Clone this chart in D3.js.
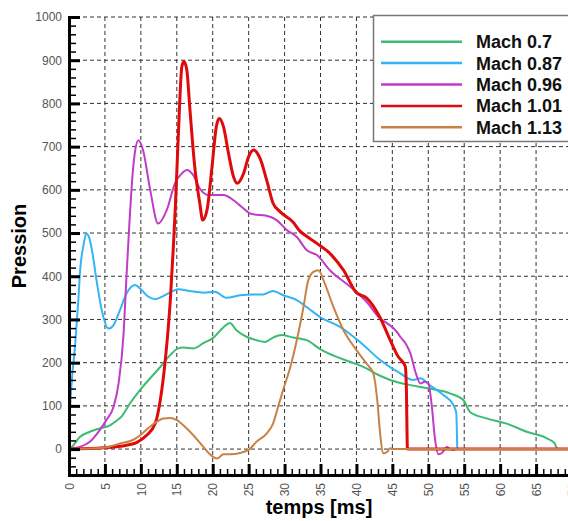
<!DOCTYPE html>
<html>
<head>
<meta charset="utf-8">
<script src="https://cdn.jsdelivr.net/npm/d3@7"></script>
<style>
  body { margin: 0; background: #fff; }
  svg { display: block; font-family: "Liberation Sans", Arial, sans-serif; }
</style>
</head>
<body>
<svg id="chart" width="568" height="521"></svg>
<script>
"use strict";

// series: [temps ms, pression]
var mach07 = [[0,0],[0.4,5],[1.5,28],[2.9,40],[4.3,48],[5.7,55],[6.4,63],[7.3,75],[8.5,106],[9.9,137],
  [11.3,164],[12.7,190],[14.1,218],[15.2,233],[15.9,235],[17.3,233],[18.7,245],[20.1,258],[21.5,282],
  [22.4,292],[23.3,275],[24.7,260],[26.1,252],[27.3,248],[28.4,258],[29.6,264],[31.2,258],[32.1,256],
  [33.1,252],[34.9,232],[37,215],[39.1,202],[41.4,187],[43,172],[44.7,160],[47.5,148],[50.2,140],
  [53,129],[54.9,113],[55.8,86],[58.1,71],[60.9,59],[63.7,40],[66.5,25],[67.6,13],[67.9,2],[68.2,0]];

var mach087 = [[0,0],[0.15,90],[0.4,160],[0.85,240],[1.3,345],[1.55,414],[2.0,470],[2.4,499],[2.8,490],
  [3.2,460],[3.9,383],[4.55,322],[5.5,279],[6.2,287],[7.1,322],[8.0,360],[9.2,380],[10.1,368],[11.0,353],
  [12.0,347],[13.1,354],[14.5,366],[15.2,370],[16.8,366],[18.7,362],[20.3,364],[21.9,350],[23.8,356],
  [25.6,358],[27.0,358],[28.4,366],[29.8,356],[31.7,345],[33.3,326],[34.9,306],[37.7,283],[40.5,248],
  [43.3,206],[46.1,175],[47.9,160],[48.9,164],[50.2,148],[52.1,125],[53.5,102],[53.9,83],[54.05,2],[54.1,0]];

var mach096 = [[0,0],[0.5,2],[1.5,5],[2.9,17],[4.1,40],[5.2,67],[6.2,98],[6.9,152],[7.6,268],[8.0,400],
  [8.4,520],[8.8,625],[9.2,690],[9.65,715],[10.3,692],[11.3,600],[12.4,522],[13.6,553],[14.75,615],
  [15.7,638],[16.4,646],[17.3,634],[18.2,603],[19.4,588],[21.5,588],[22.9,576],[24.0,561],[25.4,544],
  [27.5,540],[28.9,530],[30.3,507],[31.7,491],[33.1,460],[34.5,449],[36.3,414],[39.1,376],[41.4,341],
  [43.3,302],[44.2,292],[45.6,272],[46.1,260],[47.0,240],[47.5,222],[48.2,179],[48.9,152],[49.5,156],
  [50.0,152],[50.5,98],[50.9,28],[51.4,-12],[51.9,-9],[52.6,5],[53.0,0],[53.7,-2]];

var mach101 = [[0,0],[4.8,3],[8.0,9],[9.4,15],[10.8,32],[12.0,59],[12.7,113],[13.4,206],[14.1,345],
  [14.5,461],[14.8,560],[15.1,680],[15.4,800],[15.7,885],[16.0,897],[16.4,877],[16.8,792],[17.5,653],
  [18.2,569],[18.6,530],[19.2,553],[19.9,653],[20.5,746],[20.9,765],[21.5,746],[22.2,684],[22.9,630],
  [23.4,615],[24.3,638],[25.0,677],[25.7,692],[26.6,672],[27.5,623],[28.4,569],[29.4,549],[31.2,525],
  [32.1,505],[33.1,492],[34.5,476],[36.3,453],[38.2,414],[40.0,362],[41.4,350],[43.3,304],[44.7,252],
  [45.8,214],[46.8,191],[46.95,140],[47.1,0],[70,0]];

var mach113 = [[0,0],[4.8,3],[7.1,13],[8.9,21],[9.9,32],[11.0,48],[12.2,63],[13.1,71],[14.1,72],[15.0,67],
  [16.1,52],[17.3,32],[18.7,5],[19.6,-12],[20.6,-22],[21.5,-12],[22.4,-12],[23.8,-9],[25.0,-2],[26.1,17],
  [27.5,36],[28.4,59],[29.1,98],[29.8,137],[30.8,190],[31.7,252],[32.6,326],[33.3,391],[34.0,410],
  [34.7,414],[35.6,383],[36.8,329],[38.2,275],[40.0,229],[41.4,198],[42.35,175],[42.9,113],[43.3,36],
  [43.7,-10],[44.3,-6],[44.7,2],[45.1,0],[70,0]];

var seriesNames = ["Mach 0.7", "Mach 0.87", "Mach 0.96", "Mach 1.01", "Mach 1.13"];
var seriesData = [mach07, mach087, mach096, mach101, mach113];
var seriesColors = ["#3dbb72", "#33b4f5", "#c03cc6", "#e00a0a", "#c98245"];
var seriesWidths = [2, 2, 2, 3, 2];

var xTicks = d3.range(0, 75, 5);
var yTicks = d3.range(0, 1100, 100);

var svg = d3.select("#chart");

var x = d3.scaleLinear().domain([0, 70]).range([69, 572]);
var y = d3.scaleLinear().domain([-60, 1000]).range([475, 17]);

// grid
var grid = svg.append("g").attr("stroke", "#333").attr("stroke-width", 1)
  .attr("stroke-dasharray", "4,3");
grid.selectAll(".gx").data(xTicks.slice(1)).enter().append("line")
  .attr("x1", function(d){ return x(d); }).attr("x2", function(d){ return x(d); })
  .attr("y1", y(1000)).attr("y2", y(-60));
grid.selectAll(".gy").data(yTicks).enter().append("line")
  .attr("y1", function(d){ return y(d); }).attr("y2", function(d){ return y(d); })
  .attr("x1", x(0)).attr("x2", 572);

// curves
var line = d3.line()
  .x(function(d){ return x(d[0]); })
  .y(function(d){ return y(d[1]); })
  .curve(d3.curveMonotoneX);

svg.append("g").selectAll("path").data(seriesData).enter().append("path")
  .attr("d", line)
  .attr("fill", "none")
  .attr("stroke", function(d, i){ return seriesColors[i]; })
  .attr("stroke-width", function(d, i){ return seriesWidths[i]; })
  .attr("stroke-linejoin", "round");

// axes
var xMinor = d3.axisBottom(x).tickValues(d3.range(0, 71, 1)).tickSize(-6).tickFormat("");
var yMinor = d3.axisLeft(y).tickValues(d3.range(-60, 1001, 20)).tickSize(-7).tickFormat("");
var xMajor = d3.axisBottom(x).tickValues(xTicks).tickSize(-11).tickPadding(7).tickFormat(d3.format("d"));
var yMajor = d3.axisLeft(y).tickValues(yTicks).tickSize(-11).tickPadding(7).tickFormat(d3.format("d"));

function styleAxis(g, w) {
  g.select(".domain").attr("stroke", "#000").attr("stroke-width", 3);
  g.selectAll(".tick line").attr("stroke", "#000").attr("stroke-width", w);
  g.selectAll("text").attr("fill", "#555").style("font-size", "12px")
    .style("font-family", "'Liberation Sans', Arial, sans-serif");
}

svg.append("g").attr("transform", "translate(0," + y(-60) + ")").call(xMinor).call(styleAxis, 1.5);
svg.append("g").attr("transform", "translate(" + x(0) + ",0)").call(yMinor).call(styleAxis, 1.5);

var gx = svg.append("g").attr("transform", "translate(0," + y(-60) + ")").call(xMajor).call(styleAxis, 3);
gx.selectAll(".tick text")
  .attr("transform", "rotate(-90)")
  .attr("text-anchor", "end")
  .attr("x", -8).attr("y", 0).attr("dy", "0.35em");

svg.append("g").attr("transform", "translate(" + x(0) + ",0)").call(yMajor).call(styleAxis, 3);

// axis titles
svg.append("text").attr("x", 319).attr("y", 514).attr("text-anchor", "middle")
  .style("font-size", "20px").style("font-weight", "bold").text("temps [ms]");
svg.append("text").attr("transform", "translate(26,246) rotate(-90)").attr("text-anchor", "middle")
  .style("font-size", "20px").style("font-weight", "bold").text("Pression");

// legend
var legend = svg.append("g");
legend.append("rect").attr("x", 373.5).attr("y", 15.5).attr("width", 200).attr("height", 126)
  .attr("fill", "#fff").attr("stroke", "#777").attr("stroke-width", 1.5);
var items = legend.selectAll(".item").data(seriesNames).enter().append("g")
  .attr("transform", function(d, i){ return "translate(0," + (41.7 + i * 21.4) + ")"; });
items.append("line").attr("x1", 381).attr("x2", 462).attr("y1", 0).attr("y2", 0)
  .attr("stroke", function(d, i){ return seriesColors[i]; }).attr("stroke-width", 2.5);
items.append("text").attr("x", 476).attr("y", 0).attr("dy", "0.36em")
  .style("font-size", "18px").style("font-weight", "bold").attr("fill", "#111")
  .text(function(d){ return d; });
</script>
</body>
</html>
